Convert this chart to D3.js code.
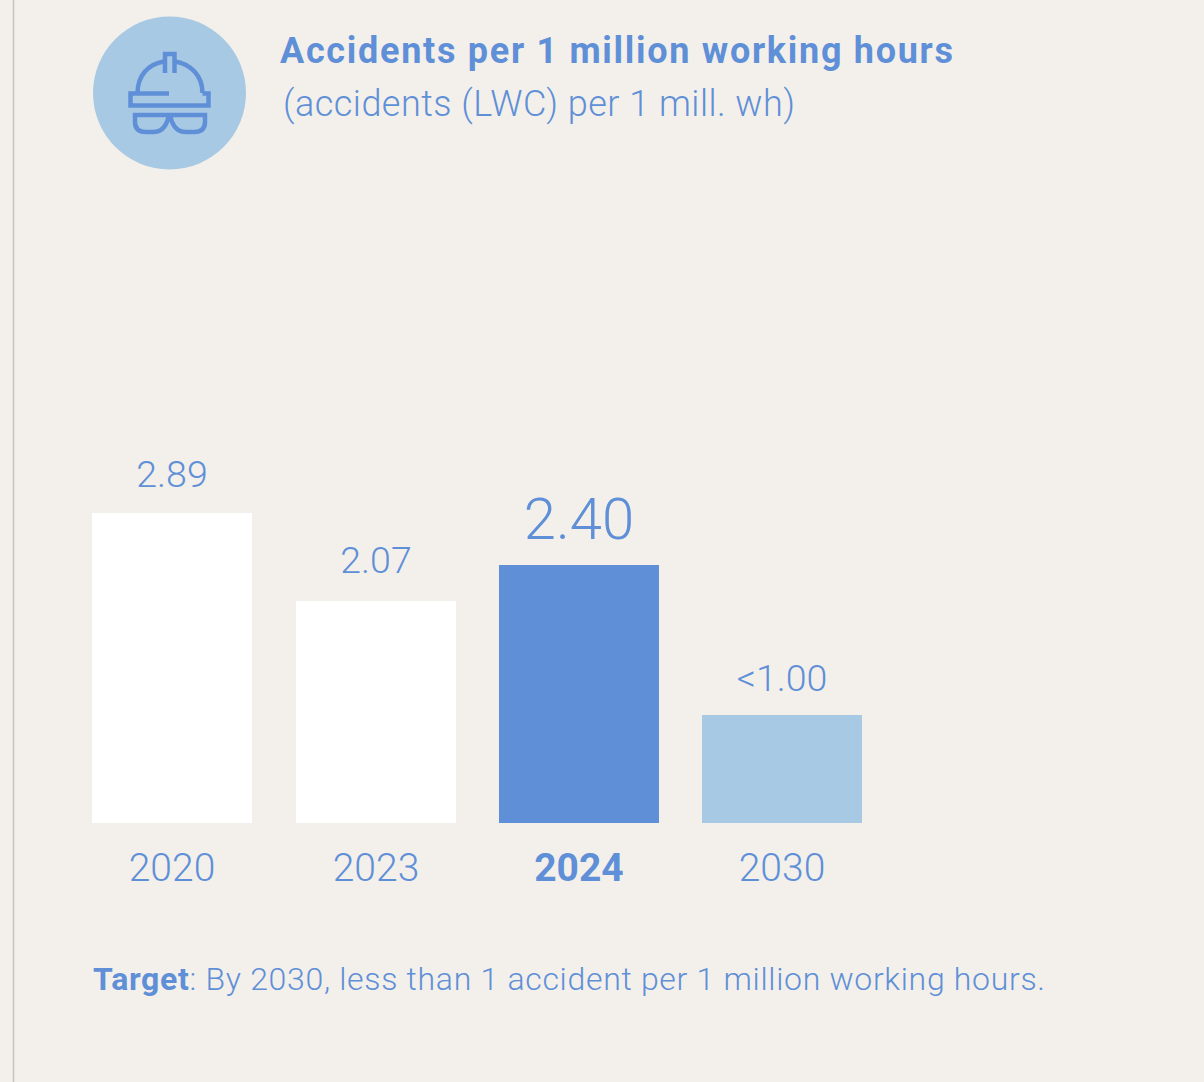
<!DOCTYPE html>
<html><head><meta charset="utf-8">
<script src="https://cdn.jsdelivr.net/npm/d3@7"></script>
<style>html,body{margin:0;padding:0;background:#f3f0eb}svg{display:block}text{font-family:Roboto,sans-serif}</style>
</head><body><div id="c"></div>
<script>
const years=["2020","2023","2024","2030"];
const values=[2.89,2.07,2.40,1.005];
const valueLabels=["2.89","2.07","2.40","<1.00"];
const blue="#5f8fd7",light="#a8c9e4";
const barFills=["#fff","#fff",blue,light];
const labelGaps=[26,28,26,24];
const svg=d3.select("#c").append("svg").attr("width",1204).attr("height",1082);
svg.append("rect").attr("width",1204).attr("height",1082).attr("fill","#f3f0eb");
svg.append("line").attr("x1",13.5).attr("x2",13.5).attr("y1",0).attr("y2",1082).attr("stroke","#c9c5bd").attr("stroke-width",1.6);
const x=d3.scaleBand().domain(years).range([92.45,862.35]).paddingInner(43.3/203.3);
const y=d3.scaleLinear().domain([0,3]).range([823,500.8]);
const cx=d=>Math.round(x(d))+80;
svg.selectAll(".bar").data(years).join("rect").attr("class","bar")
  .attr("x",d=>Math.round(x(d))).attr("width",160)
  .attr("y",(d,i)=>Math.round(y(values[i]))).attr("height",(d,i)=>823-Math.round(y(values[i])))
  .attr("fill",(d,i)=>barFills[i]);
svg.selectAll(".val").data(years).join("text").attr("class","val")
  .attr("x",cx).attr("y",(d,i)=>Math.round(y(values[i]))-labelGaps[i])
  .attr("text-anchor","middle").attr("fill",blue)
  .attr("font-size",(d,i)=>i==2?58:37.5).attr("font-weight",300).text((d,i)=>valueLabels[i]);
svg.selectAll(".yr").data(years).join("text").attr("class","yr")
  .attr("x",cx).attr("y",881).attr("text-anchor","middle").attr("fill",blue)
  .attr("font-size",39).attr("font-weight",(d,i)=>i==2?700:300).text(d=>d);
svg.append("circle").attr("cx",169.5).attr("cy",93).attr("r",76.5).attr("fill",light);
const g=svg.append("g").attr("fill","none").attr("stroke",blue).attr("stroke-width",4.5);
g.append("path").attr("d","M137.5 93 C137.5 76 148 64 164 61.5 M175 61.5 C191 64 202.5 76 202.5 93");
g.append("path").attr("d","M165 73 V54 H174.5 V73");
g.append("path").attr("d","M169 93.5 H130.5 V105.5 H208.5 V93.5 H202.5");
g.append("path").attr("d","M135 115 H205 V122 Q205 132 194 132 H186 Q174 132 170.5 117 H168.5 Q165 132 153 132 H146 Q135 132 135 122 Z");
svg.append("text").attr("x",280).attr("y",63).attr("fill",blue).attr("font-size",36).attr("font-weight",700)
  .attr("textLength",673).attr("lengthAdjust","spacing").text("Accidents per 1 million working hours");
svg.append("text").attr("x",283).attr("y",116).attr("fill",blue).attr("font-size",36).attr("font-weight",300)
  .attr("textLength",512).attr("lengthAdjust","spacing").text("(accidents (LWC) per 1 mill. wh)");
const t=svg.append("text").attr("x",93).attr("y",990).attr("fill",blue).attr("font-size",32).attr("font-weight",300)
  .attr("textLength",952).attr("lengthAdjust","spacing");
t.append("tspan").attr("font-weight",700).text("Target");
t.append("tspan").text(": By 2030, less than 1 accident per 1 million working hours.");
</script></body></html>
